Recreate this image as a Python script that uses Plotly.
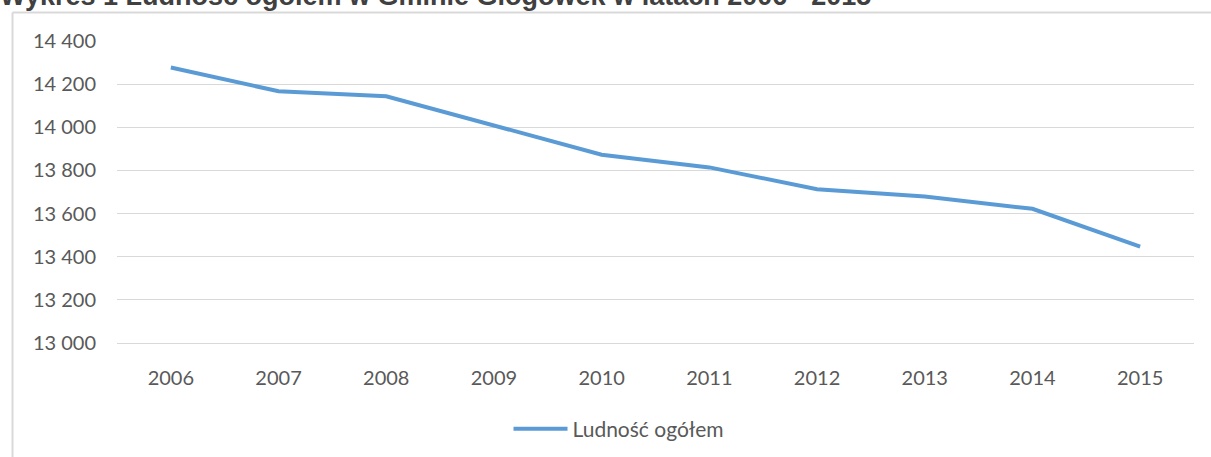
import plotly.graph_objects as go

years = ["2006", "2007", "2008", "2009", "2010", "2011", "2012", "2013", "2014", "2015"]
population = [14277, 14167, 14144, 14009, 13873, 13814, 13713, 13679, 13622, 13447]
y_ticks = [13000, 13200, 13400, 13600, 13800, 14000, 14200, 14400]
y_tick_labels = ["13 000", "13 200", "13 400", "13 600", "13 800", "14 000", "14 200", "14 400"]
series_name = "Ludność ogółem"
title_text = "Wykres 1 Ludność ogółem w Gminie Głogówek w latach 2006 - 2015"

W, H = 1211, 457
L, R, T, B = 117, 17, 41, 114
pw, ph = W - L - R, H - T - B

def px_x(px):
    return (px - L) / pw

def px_y(py):
    return (H - B - py) / ph

fig = go.Figure()
fig.add_trace(go.Scatter(
    x=years, y=population, mode="lines", name=series_name,
    line=dict(color="#5B9BD5", width=4),
))

grey = "#D9D9D9"
fig.update_layout(
    width=W, height=H,
    margin=dict(l=L, r=R, t=T, b=B, autoexpand=False),
    paper_bgcolor="white", plot_bgcolor="white",
    font=dict(family="Lato", size=20, color="#595959"),
    showlegend=True,
    legend=dict(orientation="h", xref="container", yref="container",
                x=619 / W, xanchor="center", y=1 - 429 / H, yanchor="middle",
                font=dict(family="Lato", size=21, color="#595959"), itemwidth=54),
    xaxis=dict(type="category", range=[-0.5, 9.5], showgrid=False, zeroline=False,
               showline=True, linecolor=grey, linewidth=1, ticks="", ticklabelstandoff=17),
    yaxis=dict(range=[13000, 14400], tickvals=y_ticks, ticktext=y_tick_labels,
               showgrid=True, gridcolor=grey, gridwidth=1, zeroline=False, showline=False,
               ticks="", ticklabelstandoff=20),
    shapes=[
        dict(type="line", xref="paper", yref="paper", x0=px_x(12.5), x1=px_x(12.5),
             y0=px_y(12.5), y1=px_y(470), line=dict(color=grey, width=2)),
        dict(type="line", xref="paper", yref="paper", x0=px_x(12.5), x1=px_x(1220),
             y0=px_y(12.5), y1=px_y(12.5), line=dict(color=grey, width=2)),
    ],
    annotations=[
        dict(text=f"<b>{title_text}</b>", xref="paper", yref="paper", x=px_x(-2), xanchor="left",
             y=px_y(13), yanchor="bottom", showarrow=False,
             font=dict(family="Liberation Sans", size=27, color="#404040")),
    ],
)

fig.write_html("out.html", config={"displayModeBar": False},
               post_script="document.body.style.margin='0';")
